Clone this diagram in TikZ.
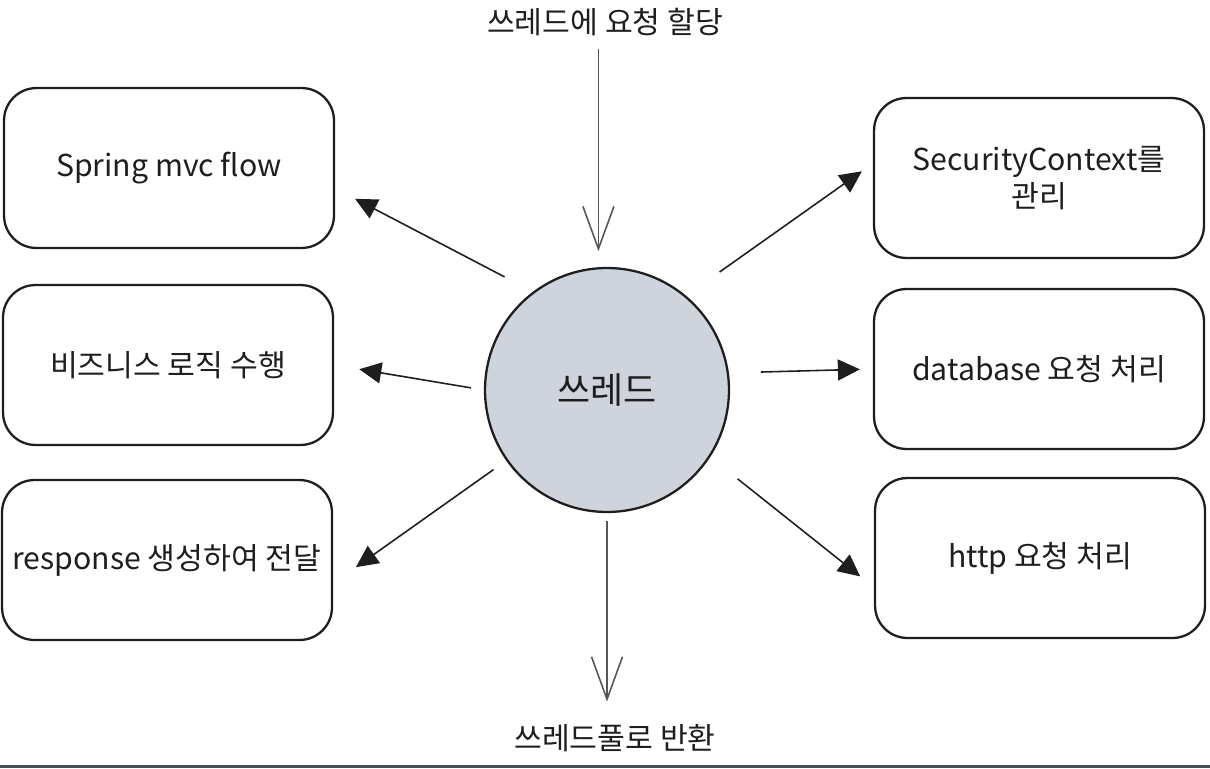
\documentclass[tikz,border=0pt]{standalone}
\usepackage{fontspec}
\setmainfont{Noto Sans CJK KR}
\usetikzlibrary{arrows.meta}
\definecolor{ink}{HTML}{1E1E1E}
\definecolor{threadfill}{HTML}{CED3DC}
\definecolor{rulegray}{HTML}{4A4F57}

\begin{document}
\begin{tikzpicture}[x=0.02cm,y=-0.02cm,line width=1pt,
  box/.style={draw=ink,line width=1.3pt,rounded corners=0.65cm,minimum width=6.6cm,minimum height=3.2cm,align=center,text=ink,font=\fontsize{17.2}{21.5}\selectfont},
  note/.style={text=ink,font=\fontsize{17.2}{20}\selectfont},
  push/.style={draw=ink,line width=0.9pt,-{Triangle[length=0.44cm,width=0.42cm]}},
  flow/.style={draw=ink!75,line width=0.9pt,-{Straight Barb[length=0.85cm,width=0.62cm]}}]
  \useasboundingbox (0,0) rectangle (1210,768);
  \fill[white] (0,0) rectangle (1210,768);
  \fill[rulegray] (0,765) rectangle (1210,768);
  % thread
  \node[circle,draw=ink,line width=1.3pt,fill=threadfill,minimum size=4.88cm,inner sep=0pt,
        text=ink,font=\fontsize{20.5}{24}\selectfont] (thread) at (607,390) {쓰레드};
  \node[note] (assign) at (605,22) {쓰레드에 요청 할당};
  \node[note] (pool) at (615,738) {쓰레드풀로 반환};
  % left side
  \node[box] (spring) at (169,168) {Spring mvc flow};
  \node[box] (biz) at (168,365) {비즈니스 로직 수행};
  \node[box] (resp) at (167,560) {response 생성하여 전달};
  % right side
  \node[box] (sec) at (1039,178) {SecurityContext를\\관리};
  \node[box] (db) at (1039,369) {database 요청 처리};
  \node[box] (http) at (1040,558) {http 요청 처리};
  % in and out
  \draw[flow,shorten <=0.12cm,shorten >=0.32cm] (assign.south -| thread.94) -- (thread.94);
  \draw[flow,shorten <=0.16cm,shorten >=0.32cm] (thread.south) -- (pool.north -| thread.south);
  % work
  \draw[push,shorten <=0.64cm,shorten >=0.45cm] (thread.127) -- (spring.-7.4);
  \draw[push,shorten <=0.26cm,shorten >=0.51cm] (thread.180) -- (biz.0.5);
  \draw[push,shorten <=0.31cm,shorten >=0.56cm] (thread.215.6) -- (resp.-8.3);
  \draw[push,shorten <=0.82cm,shorten >=0.27cm] (thread.50.8) -- (sec.175.3);
  \draw[push,shorten <=0.64cm,shorten >=0.26cm] (thread.8.2) -- (db.180);
  \draw[push,shorten <=0.70cm,shorten >=0.35cm] (thread.-33) -- (http.-170.4);
\end{tikzpicture}
\end{document}
